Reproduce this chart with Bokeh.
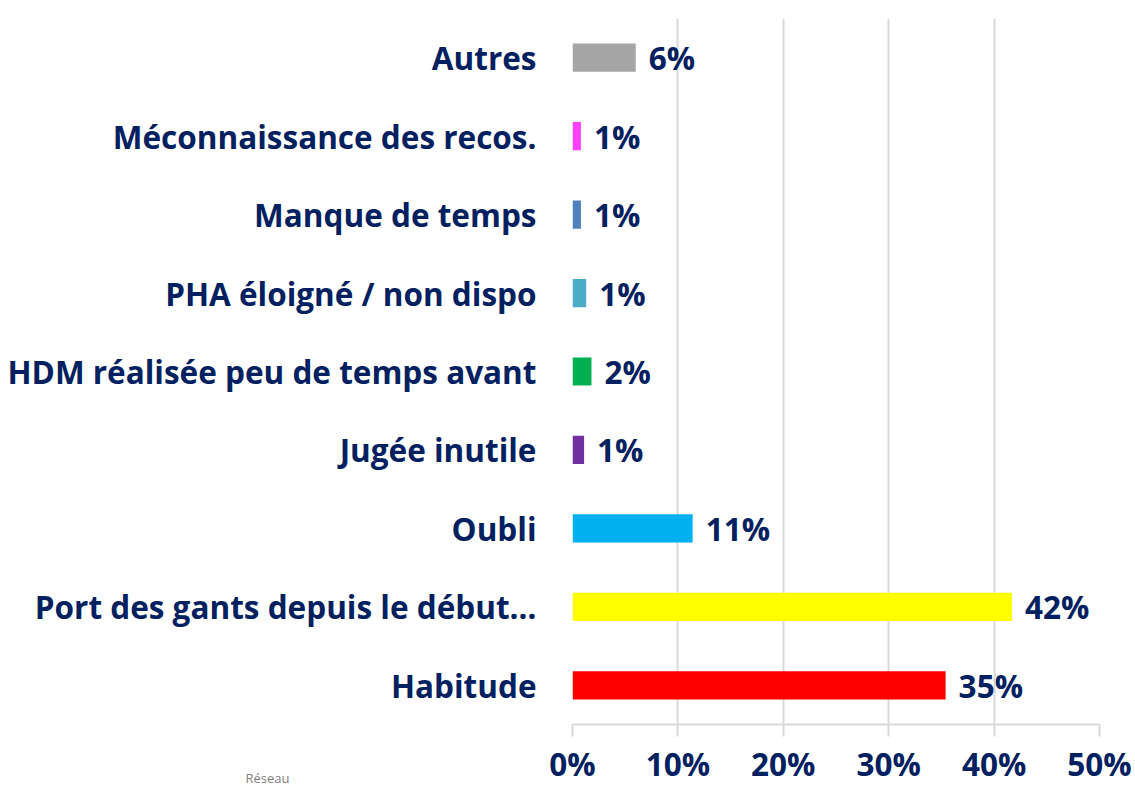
from bokeh.plotting import figure
from bokeh.models import ColumnDataSource, Range1d, FactorRange, FixedTicker, NumeralTickFormatter, Label
from bokeh.core.properties import value
from bokeh.embed import file_html
from bokeh.resources import INLINE

# Data (bottom to top)
categories = [
    "Habitude",
    "Port des gants depuis le début…",
    "Oubli",
    "Jugée inutile",
    "HDM réalisée peu de temps avant",
    "PHA éloigné / non dispo",
    "Manque de temps",
    "Méconnaissance des recos.",
    "Autres",
]
values = [35.4, 41.7, 11.4, 1.1, 1.8, 1.3, 0.8, 0.8, 6.0]
colors = ["#ff0000", "#ffff00", "#00b0f0", "#7030a0", "#00b050",
          "#4bacc6", "#4f81bd", "#ff40ff", "#a6a6a6"]
x_ticks = [0, 0.1, 0.2, 0.3, 0.4, 0.5]

labels = [f"{round(v):d}%" for v in values]
fractions = [v / 100 for v in values]

TEXT = "#002060"
FONT = "Open Sans"
FS = "31.5px"

src = ColumnDataSource(dict(cat=categories, val=fractions, color=colors, label=labels))

p = figure(
    width=1133, height=787,
    y_range=FactorRange(*categories),
    x_range=Range1d(0, 0.5),
    output_backend="svg", toolbar_location=None,
    min_border_left=572, min_border_right=34,
    min_border_top=12, min_border_bottom=50,
)
p.outline_line_color = None
p.background_fill_color = "white"

p.hbar(y="cat", left=0, right="val", height=0.36, color="color", line_color=None, source=src)
p.text(x="val", y="cat", text="label", source=src, x_offset=13,
       text_align="left", text_baseline="middle",
       text_font=value(FONT), text_font_style="bold",
       text_font_size=FS, text_color=TEXT)

# x axis
p.xaxis.ticker = FixedTicker(ticks=x_ticks)
p.xaxis.formatter = NumeralTickFormatter(format="0%")
p.xaxis.axis_line_color = "#d9d9d9"
p.xaxis.axis_line_width = 2
p.xaxis.major_tick_line_color = "#d9d9d9"
p.xaxis.major_tick_line_width = 2
p.xaxis.major_tick_out = 12
p.xaxis.major_tick_in = 0
p.xaxis.minor_tick_line_color = None
p.xaxis.major_label_standoff = 5
p.xaxis.major_label_text_font = FONT
p.xaxis.major_label_text_font_style = "bold"
p.xaxis.major_label_text_font_size = FS
p.xaxis.major_label_text_color = TEXT

# y axis
p.yaxis.axis_line_color = None
p.yaxis.major_tick_line_color = None
p.yaxis.minor_tick_line_color = None
p.yaxis.major_tick_out = 0
p.yaxis.major_tick_in = 0
p.yaxis.major_label_standoff = 36
p.yaxis.major_label_text_font = FONT
p.yaxis.major_label_text_font_style = "bold"
p.yaxis.major_label_text_font_size = FS
p.yaxis.major_label_text_color = TEXT

# grid
p.xgrid.ticker = FixedTicker(ticks=x_ticks)
p.xgrid.grid_line_color = "#d9d9d9"
p.xgrid.grid_line_width = 2
p.ygrid.grid_line_color = None

# logo text fragment (placed in a side panel so it is not clipped to the frame)
p.add_layout(Label(x=245, y=777, x_units="canvas", y_units="canvas",
                   text="Réseau", text_font=FONT, text_font_size="13px",
                   text_color="#808080", text_baseline="middle"), "above")

open("out.html", "w").write(file_html(p, INLINE))
